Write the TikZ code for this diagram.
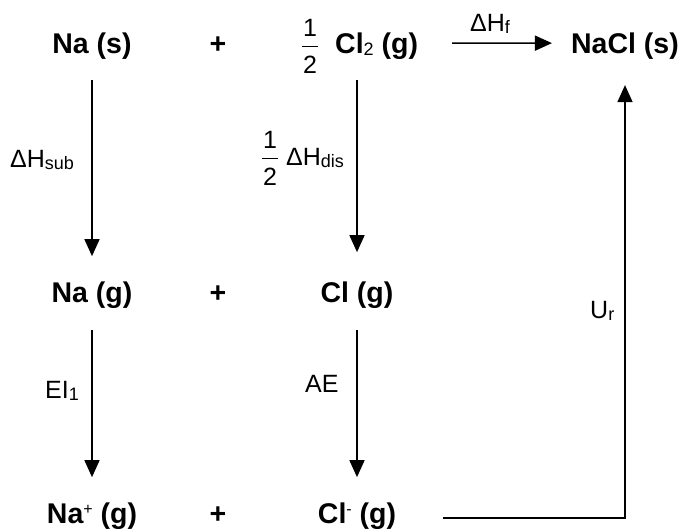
\documentclass[tikz,border=0pt]{standalone}
\usepackage{amsmath}
\usepackage{fontspec}
\setmainfont{Liberation Sans}
\usetikzlibrary{arrows.meta, positioning, calc}
\newcommand{\sbs}[1]{\raisebox{-2.5pt}{\fontsize{18}{18}\selectfont\mdseries #1}}
\newcommand{\sps}[1]{\raisebox{9pt}{\fontsize{16}{16}\selectfont\mdseries #1}}
\newcommand{\halfnum}{\ensuremath{\genfrac{}{}{1.4pt}{0}{\text{\kern1pt 1\kern1pt}\rule[-2pt]{0pt}{2pt}}{\text{2}\rule{0pt}{22pt}}}}
\tikzset{
  spc/.style={inner sep=0pt, font=\fontsize{28.5}{32}\selectfont\bfseries},
  lab/.style={inner sep=0pt, font=\fontsize{25}{29}\selectfont},
  arr/.style={-{Triangle[length=17pt,width=15pt]}, line width=1.6pt, draw=black},
}

\begin{document}
\begin{tikzpicture}[x=1pt,y=-1pt]
  \useasboundingbox (0,0) rectangle (684,528);
  % row 1
  \node[spc, anchor=base] (nas) at (92,53) {Na (s)};
  \node[spc, anchor=base] (plus1) at (218,53) {+};
  \node[lab, anchor=base] (half1) at (310,53) {\halfnum};
  \node[spc, anchor=base west] (cl2) at (335,53) {Cl\sbs{2} (g)};
  \node[spc, anchor=base] (nacl) at (625,53) {NaCl (s)};
  % row 2
  \node[spc, anchor=base] (nag) at (92,302) {Na (g)};
  \node[spc, anchor=base] (plus2) at (218,302) {+};
  \node[spc, anchor=base] (clg) at (357,302) {Cl (g)};
  % row 3
  \node[spc, anchor=base] (nap) at (92,523) {Na\sps{+} (g)};
  \node[spc, anchor=base] (plus3) at (218,523) {+};
  \node[spc, anchor=base] (clm) at (357,523) {Cl\sps{-} (g)};
  % labels
  \node[lab, anchor=base west] (hsub) at (10,167) {ΔH\sbs{sub}};
  \node[lab, anchor=base] (half2) at (270,165) {\halfnum};
  \node[lab, anchor=base west] (hdis) at (286,165) {ΔH\sbs{dis}};
  \node[lab, anchor=base] (hf) at (490,31) {ΔH\sbs{f}};
  \node[lab, anchor=base west] (ei) at (45,398) {EI\sbs{1}};
  \node[lab, anchor=base west] (ae) at (305,392) {AE};
  \node[lab, anchor=base west] (ur) at (590,318) {U\sbs{r}};

  % arrows
  \draw[arr, shorten <=21pt, shorten >=25pt] (nas) -- (nag);
  \draw[arr, shorten <=22pt, shorten >=25pt] (nag) -- (nap);
  \draw[arr, shorten <=21pt, shorten >=29pt] (cl2.south -| clg) -- (clg);
  \draw[arr, shorten <=22pt, shorten >=25pt] (clg) -- (clm);
  \draw[arr, shorten <=34pt, shorten >=19pt] ([yshift=2.5pt]cl2.east) -- ([yshift=2.5pt]nacl.west);
  \draw[arr, shorten >=26pt] ([xshift=47pt,yshift=5pt]clm.base east) -| (nacl.south);
\end{tikzpicture}
\end{document}
